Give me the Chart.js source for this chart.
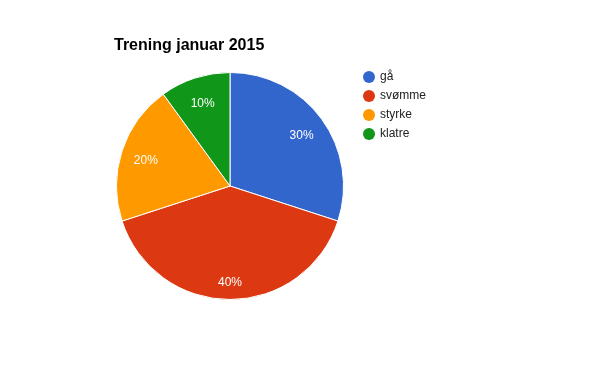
<!DOCTYPE html>
<html>
<head>
<meta charset="utf-8">
<script src="https://cdn.jsdelivr.net/npm/chart.js@4"></script>
<style>
  html, body { margin: 0; padding: 0; background: #fff; }
  #wrap { width: 600px; height: 371px; }
</style>
</head>
<body>
<div id="wrap"><canvas id="myChart" width="600" height="371"></canvas></div>
<script>
// Data
const titleText = 'Trening januar 2015';
const labels = ['gå', 'svømme', 'styrke', 'klatre'];
const values = [30, 40, 20, 10];
const colors = ['#3366cc', '#dc3912', '#ff9900', '#109618'];

const FONT = '"Liberation Sans", Arial, sans-serif';

// draws title, legend and percentage labels like the google chart
const extras = {
  id: 'extras',
  afterDraw(chart) {
    const ctx = chart.ctx;
    ctx.save();
    // title
    ctx.fillStyle = '#000';
    ctx.font = 'bold 16px ' + FONT;
    ctx.textAlign = 'left';
    ctx.textBaseline = 'alphabetic';
    ctx.fillText(titleText, 114, 50);

    // legend
    ctx.font = '12px ' + FONT;
    ctx.textBaseline = 'middle';
    labels.forEach((l, i) => {
      const y = 77 + i * 19;
      ctx.fillStyle = colors[i];
      ctx.beginPath();
      ctx.arc(369, y, 6, 0, Math.PI * 2);
      ctx.fill();
      ctx.fillStyle = '#222';
      ctx.fillText(l, 380, y);
    });

    // slice labels
    const total = values.reduce((a, b) => a + b, 0);
    const meta = chart.getDatasetMeta(0);
    ctx.fillStyle = '#fff';
    ctx.font = '12px ' + FONT;
    ctx.textAlign = 'center';
    meta.data.forEach((arc, i) => {
      const p = arc.getProps(['x', 'y', 'startAngle', 'endAngle', 'outerRadius'], true);
      const a = (p.startAngle + p.endAngle) / 2;
      // google pushes labels a bit further out at the bottom
      const r = p.outerRadius * (0.78 + 0.05 * Math.max(0, Math.sin(a)));
      const pct = Math.round(values[i] / total * 100) + '%';
      ctx.fillText(pct, p.x + Math.cos(a) * r, p.y + Math.sin(a) * r + 2);
    });
    ctx.restore();
  }
};

const ctx = document.getElementById('myChart').getContext('2d');
const myChart = new Chart(ctx, {
  type: 'pie',
  data: {
    labels: labels,
    datasets: [{
      data: values,
      backgroundColor: colors,
      borderColor: '#ffffff',
      borderWidth: 1
    }]
  },
  options: {
    responsive: false,
    animation: false,
    layout: {
      padding: { left: 116, right: 256, top: 72, bottom: 71 }
    },
    plugins: {
      legend: { display: false },
      title: { display: false },
      tooltip: { enabled: false }
    }
  },
  plugins: [extras]
});
</script>
</body>
</html>
